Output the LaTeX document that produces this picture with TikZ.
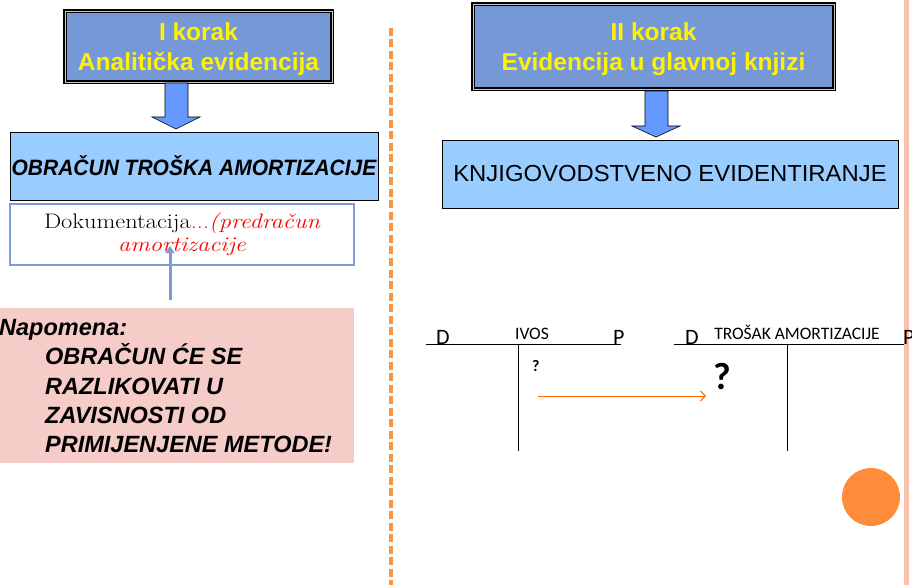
\documentclass[tikz,border=0pt]{standalone}
\usepackage{fontspec}
\newfontfamily\arial{Liberation Sans}
\newfontfamily\calibri{Carlito}
\usetikzlibrary{arrows.meta,calc}
\definecolor{korakblue}{RGB}{119,152,214}
\definecolor{arrowblue}{RGB}{102,153,255}
\definecolor{lightblue}{RGB}{153,204,255}
\definecolor{notepink}{RGB}{245,204,200}
\definecolor{docborder}{RGB}{124,155,215}
\definecolor{dashorange}{RGB}{247,150,70}
\definecolor{circorange}{RGB}{255,140,58}
\definecolor{stripcol}{RGB}{250,195,175}
\definecolor{arroworange}{RGB}{255,102,0}
\definecolor{upblue}{RGB}{126,155,211}
\begin{document}
\begin{tikzpicture}[x=1pt,y=-1pt,
  korak/.style={draw=black, line width=1.1pt, double=gray!45, double distance=0.9pt,
    fill=korakblue, text=yellow, align=center, inner sep=0pt,
    font=\arial\bfseries\fontsize{24.5}{30}\selectfont},
  lightbox/.style={draw=black, line width=0.8pt, fill=lightblue, inner sep=0pt, align=center},
  docbox/.style={draw=docborder, line width=1.6pt, fill=white, inner sep=0pt, align=center,
    font=\fontsize{21}{23}\selectfont},
  blockarrow/.style={fill=arrowblue, draw=black, line width=0.6pt},
  notetext/.style={anchor=base west, inner sep=0pt, font=\arial\bfseries\itshape\fontsize{23.5}{28}\selectfont},
  tline/.style={draw=black, line width=1pt},
  tlabel/.style={inner sep=0pt, font=\calibri\fontsize{22}{26}\selectfont},
  tname/.style={inner sep=0pt, anchor=base, font=\calibri\fontsize{17.5}{20}\selectfont},
]
\useasboundingbox (0,0) rectangle (912,585);

% ---------- left column ----------
\node[korak, minimum width=267pt, minimum height=71pt] (k1) at (198.5,46.5)
  {\rule{0pt}{23pt}I korak\\Analitička evidencija};
\draw[blockarrow] (165,83) -- (188,83) -- (188,117) -- (200,117) -- (176,129)
  -- (152,117) -- (165,117) -- cycle;

\node[lightbox, minimum width=368pt, minimum height=68pt,
  font=\arial\bfseries\itshape\fontsize{21}{25}\selectfont] (obr) at (194,166)
  {\scalebox{1}[1.06]{OBRAČUN TROŠKA AMORTIZACIJE}};

\node[docbox, minimum width=344pt, minimum height=61pt] (doc) at (182,234.5)
  {\scalebox{1.16}[1]{Dokumentacija{\color{red}...\itshape(predračun}}\\
   \scalebox{1.16}[1]{\color{red}\itshape amortizacije}};

\coordinate (upstart) at (170,300);
\coordinate (upend) at (170,246);
\draw[upblue, line width=3pt, -{Triangle[length=7pt,width=9pt]}] (upstart) -- (upend);

\node[fill=notepink, minimum width=354pt, minimum height=155pt, inner sep=0pt,
  anchor=north west] (nap) at (0,308) {};
\node[notetext] (n1) at (-1,335) {Napomena:};
\node[notetext] (n2) at (45,364.5) {OBRAČUN ĆE SE};
\node[notetext] (n3) at (45,394) {RAZLIKOVATI U};
\node[notetext] (n4) at (45,423) {ZAVISNOSTI OD};
\node[notetext] (n5) at (45,452) {PRIMIJENJENE METODE!};

\draw[dashorange, line width=3.5pt, dash pattern=on 8pt off 3.5pt] (391,28) -- (391,585);

% ---------- right column ----------
\node[korak, minimum width=361pt, minimum height=85pt] (k2) at (653.5,46.5)
  {\rule{0pt}{23pt}II korak\\Evidencija u glavnoj knjizi};
\draw[blockarrow] (645,91) -- (668,91) -- (668,126) -- (680,126) -- (656,137)
  -- (632,126) -- (645,126) -- cycle;

\node[lightbox, minimum width=456pt, minimum height=68pt,
  font=\arial\fontsize{22.5}{26}\selectfont] (knj) at (670,174)
  {\scalebox{1.06}[1.03]{KNJIGOVODSTVENO EVIDENTIRANJE}};

% T-account IVOS
\coordinate (t1l) at (426,344);
\coordinate (t1r) at (621,344);
\coordinate (t1t) at (518,344);
\coordinate (t1b) at (518,451);
\draw[tline] (t1l) -- (t1r);
\draw[tline] (t1t) -- (t1b);
\node[tlabel, anchor=base west] (d1) at (436,344) {D};
\node[tlabel, anchor=base west] (p1) at (613,344) {P};
\node[tname] (ivos) at (532,339) {IVOS};

% T-account Trosak amortizacije
\coordinate (t2l) at (674,344);
\coordinate (t2r) at (905,344);
\coordinate (t2t) at (787,344);
\coordinate (t2b) at (787,451);
\draw[tline] (t2l) -- (t2r);
\draw[tline] (t2t) -- (t2b);
\node[tlabel, anchor=base west] (d2) at (685,344) {D};
\node[tname] (tros) at (797,339) {TROŠAK AMORTIZACIJE};

\node[inner sep=0pt, anchor=base west, font=\calibri\bfseries\fontsize{16}{18}\selectfont] (q1) at (532,371) {?};
\node[inner sep=0pt, anchor=base west, font=\calibri\bfseries\fontsize{38}{40}\selectfont] (q2) at (713,389) {?};

\coordinate (oa1) at (538,396);
\coordinate (oa2) at (706,396);
\draw[arroworange, line width=1pt, -{Straight Barb[length=5pt,width=10pt]}] (oa1) -- (oa2);

\fill[circorange] (871,497) circle[radius=29pt];
\fill[stripcol] (904,0) rectangle (908.5,585);
\node[tlabel, anchor=base west] (p2) at (903,344) {P};
\end{tikzpicture}
\end{document}
